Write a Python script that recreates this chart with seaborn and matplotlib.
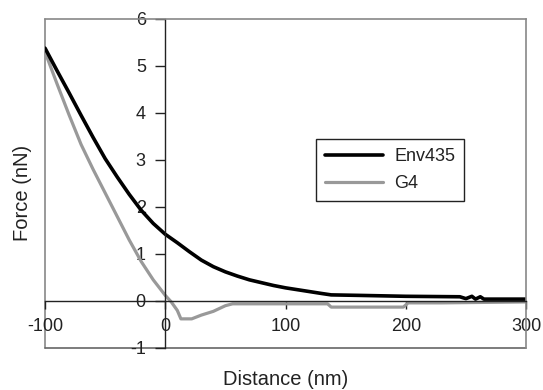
import pandas as pd
import seaborn as sns
import matplotlib.pyplot as plt

# Env435 curve
env_x = [-100, -90, -80, -70, -60, -50, -40, -30, -20, -10, 0, 10, 20, 30, 40, 50,
         60, 70, 80, 90, 100, 110, 120, 130, 138, 160, 180, 200, 245, 250, 255,
         258, 262, 265, 300]
env_y = [5.38, 4.9, 4.43, 3.95, 3.48, 3.03, 2.64, 2.27, 1.93, 1.65, 1.42, 1.24, 1.05,
         0.87, 0.73, 0.62, 0.53, 0.45, 0.39, 0.33, 0.28, 0.24, 0.2, 0.16, 0.13, 0.12,
         0.11, 0.1, 0.09, 0.05, 0.1, 0.04, 0.09, 0.04, 0.04]

# G4 curve
g4_x = [-100, -90, -80, -70, -60, -50, -40, -30, -20, -10, 0, 5, 10, 13, 22, 30, 40,
        50, 56, 135, 138, 198, 202, 230, 300]
g4_y = [5.3, 4.62, 3.96, 3.33, 2.8, 2.3, 1.8, 1.3, 0.84, 0.45, 0.12, -0.02, -0.2,
        -0.38, -0.38, -0.3, -0.22, -0.1, -0.06, -0.06, -0.13, -0.13, -0.04, -0.04, -0.02]

env = pd.DataFrame({'Distance': env_x, 'Force': env_y})
g4 = pd.DataFrame({'Distance': g4_x, 'Force': g4_y})

sns.set_theme(style='white')
plt.rcParams['font.family'] = ['Liberation Sans', 'DejaVu Sans']
plt.rcParams['axes.unicode_minus'] = False

fig = plt.figure(figsize=(5.43, 3.90), dpi=100)
ax = fig.add_axes([0.0829, 0.1077, 0.8858, 0.8436])

sns.lineplot(data=g4, x='Distance', y='Force', color='#999999', lw=2.3,
             label='G4', ax=ax, estimator=None, sort=False)
sns.lineplot(data=env, x='Distance', y='Force', color='black', lw=2.6,
             label='Env435', ax=ax, estimator=None, sort=False)

ax.set_xlim(-100, 300)
ax.set_ylim(-1, 6)
ax.set_xticks([-100, 0, 100, 200, 300])
ax.set_yticks(range(-1, 7))

# axes crossing at zero
for s in ['left', 'bottom']:
    ax.spines[s].set_position(('data', 0))
    ax.spines[s].set_color('#222222')
    ax.spines[s].set_linewidth(1)
for s in ['top', 'right']:
    ax.spines[s].set_visible(True)
    ax.spines[s].set_color('#888888')
    ax.spines[s].set_linewidth(1.2)
# outer frame on the left / bottom
ax.axvline(-100, color='#888888', lw=1.2, clip_on=False, zorder=0)
ax.axhline(-1, color='#666666', lw=1.2, clip_on=False, zorder=0)

ax.tick_params(axis='both', bottom=True, left=True, direction='out',
               width=1, color='#222222', labelsize=13, labelcolor='#222222')
ax.tick_params(axis='x', length=6, pad=6.5)
ax.tick_params(axis='y', length=7, pad=7)

ax.set_xlabel('Distance (nm)', fontsize=14.5, color='#222222')
ax.xaxis.set_label_coords(0.5, -0.068)
ax.set_ylabel('Force (nN)', fontsize=14.5, color='#222222')
ax.yaxis.set_label_coords(-0.027, 0.47)

h, l = ax.get_legend_handles_labels()
ax.legend(h[::-1], l[::-1], loc='upper left', bbox_to_anchor=(0.563, 0.635),
          borderaxespad=0, frameon=True, fancybox=False, edgecolor='#222222',
          framealpha=1, fontsize=13, handlelength=3.2, handletextpad=0.65,
          labelspacing=0.55, borderpad=0.5)
leg = ax.get_legend()
leg.get_frame().set_linewidth(1)
for t in leg.get_texts():
    t.set_color('#222222')

fig.savefig('out.png', dpi=100)
